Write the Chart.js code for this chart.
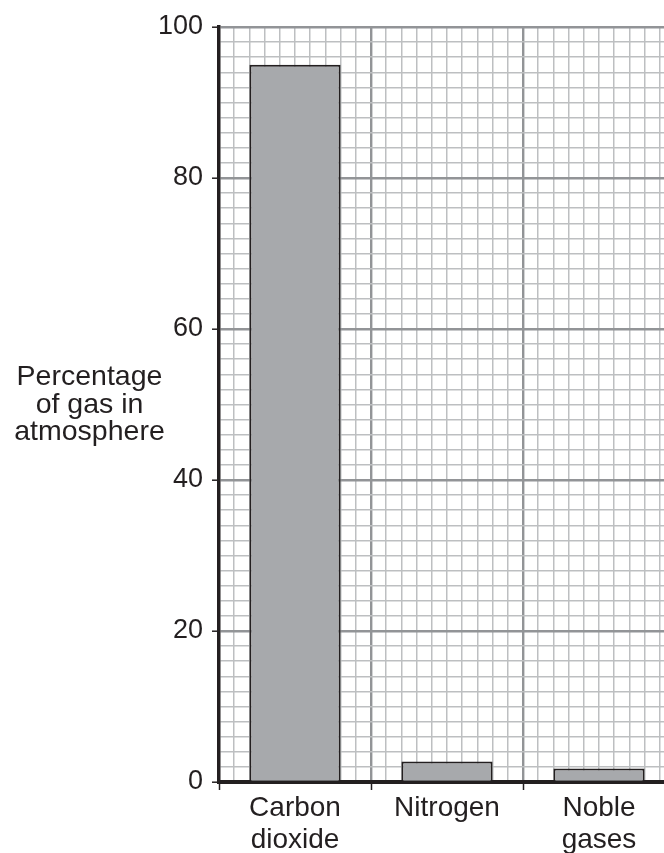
<!DOCTYPE html>
<html>
<head>
<meta charset="utf-8">
<script src="https://cdn.jsdelivr.net/npm/chart.js@4"></script>
<style>
  html, body { margin: 0; padding: 0; background: #fff; overflow: hidden; }
  #wrap { width: 676px; height: 853px; }
</style>
</head>
<body>
<div id="wrap"><canvas id="c" width="676" height="853"></canvas></div>
<script>
// ---- data ----
const categories = [["Carbon", "dioxide"], "Nitrogen", ["Noble", "gases"]];
const percentages = [95, 2.7, 1.8];
const yTickLabels = [0, 20, 40, 60, 80, 100];
const yTitleLines = ["Percentage", "of gas in", "atmosphere"];
const minorPerCategory = 10;

const INK = '#231f20';
const MAJOR = '#929497';
const MINOR = '#bdbfc1';
const CLEAR = 'rgba(0,0,0,0)';
const FONT = '"Liberation Sans", Arial, Helvetica, sans-serif';

const tv = c => (c && c.tick && typeof c.tick.value === 'number') ? c.tick.value : null;
const isInt = v => v !== null && Math.abs(v - Math.round(v)) < 1e-6;
const isMajorY = v => isInt(v) && yTickLabels.includes(Math.round(v));
const isMajorX = v => isInt(v) && Math.round(v) % minorPerCategory === 0;

const titlePlugin = {
  id: 'yTitle',
  afterDraw(chart) {
    const ctx = chart.ctx;
    const a = chart.chartArea;
    const cy = (a.top + a.bottom) / 2;
    ctx.save();
    ctx.font = '28.5px ' + FONT;
    ctx.fillStyle = INK;
    ctx.textAlign = 'center';
    ctx.textBaseline = 'alphabetic';
    const offs = [-19.5, 8, 35.5];
    yTitleLines.forEach((t, i) => ctx.fillText(t, 89.5, cy + offs[i]));
    ctx.restore();
  }
};

new Chart(document.getElementById('c'), {
  type: 'bar',
  data: {
    labels: categories,
    datasets: [{
      data: percentages,
      backgroundColor: '#a7a9ac',
      borderColor: INK,
      borderWidth: 2,
      barPercentage: 0.6,
      categoryPercentage: 1.0
    }]
  },
  options: {
    responsive: false,
    animation: false,
    devicePixelRatio: 1,
    layout: { padding: { left: 0, right: 1, top: 27, bottom: 0 } },
    plugins: { legend: { display: false }, tooltip: { enabled: false } },
    scales: {
      x: {
        type: 'category',
        offset: true,
        grid: {
          offset: true,
          drawOnChartArea: false,
          drawTicks: true,
          tickLength: 8,
          tickColor: INK,
          tickWidth: 1.5
        },
        border: { display: true, color: INK, width: 4 },
        ticks: {
          color: INK,
          font: { family: FONT, size: 28, lineHeight: 1.15 },
          padding: 2,
          maxRotation: 0,
          autoSkip: false
        },
        afterFit(scale) { scale.height = 71; }
      },
      x2: {
        type: 'linear',
        position: 'top',
        offset: false,
        min: 0,
        max: categories.length * minorPerCategory,
        ticks: { display: false, stepSize: 1, autoSkip: false },
        grid: {
          offset: false,
          drawTicks: false,
          color: c => { const v = tv(c); if (v === null) return MINOR; if (v < 1e-6) return CLEAR; return isMajorX(v) ? MAJOR : MINOR; },
          lineWidth: c => isMajorX(tv(c)) ? 2.4 : 1.5
        },
        border: { display: false }
      },
      y: {
        type: 'linear',
        min: 0,
        max: 100,
        ticks: {
          stepSize: 2,
          autoSkip: false,
          color: INK,
          font: { family: FONT, size: 27 },
          padding: 9,
          callback: v => isMajorY(v) ? String(Math.round(v)) : ''
        },
        grid: {
          drawTicks: true,
          tickLength: 7,
          tickWidth: 1.5,
          tickColor: c => isMajorY(tv(c)) ? INK : CLEAR,
          color: c => { const v = tv(c); if (v === null) return MINOR; if (v < 1e-6) return CLEAR; return isMajorY(v) ? MAJOR : MINOR; },
          lineWidth: c => isMajorY(tv(c)) ? 2.4 : 1.5
        },
        border: { display: true, color: INK, width: 3.5 },
        afterFit(scale) { scale.width = 219; }
      }
    }
  },
  plugins: [titlePlugin]
});
</script>
</body>
</html>
